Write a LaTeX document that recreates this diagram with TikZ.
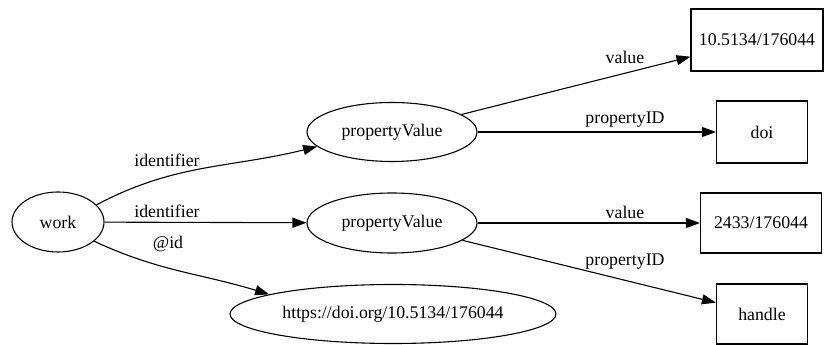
\documentclass[tikz,border=0pt]{standalone}
\usepackage{fontspec}
\setmainfont{Liberation Serif}
\usetikzlibrary{arrows.meta,shapes.geometric}
\begin{document}
\begin{tikzpicture}[x=1pt,y=1pt,
  every node/.style={font=\fontsize{17.8}{20}\selectfont, inner sep=0pt},
  ell/.style={draw, ellipse, line width=1.1pt},
  box/.style={draw, rectangle, line width=1.1pt},
  edge/.style={draw, line width=1.1pt, -{Triangle[length=14pt,width=10pt]}},
  lbl/.style={fill=none}]
\useasboundingbox (0,0) rectangle (828,345);
\node[ell, minimum width=92pt, minimum height=60pt] (work) at (58,123) {work};
\node[ell, minimum width=170pt, minimum height=59pt] (pv1) at (392,213) {propertyValue};
\node[ell, minimum width=170pt, minimum height=60pt] (pv2) at (392,122) {propertyValue};
\node[ell, minimum width=326pt, minimum height=59pt] (url) at (393,31) {https://doi.org/10.5134/176044};
\node[box, minimum width=132pt, minimum height=62pt] (b1) at (757,305) {10.5134/176044};
\node[box, minimum width=91pt, minimum height=62pt] (doi) at (762,213) {doi};
\node[box, minimum width=121pt, minimum height=60pt] (b2) at (761,122) {2433/176044};
\node[box, minimum width=91pt, minimum height=60pt] (handle) at (762,31) {handle};

\draw[edge] (work.24) to[out=28,in=194] (pv1.191);
\draw[edge] (work) -- (pv2);
\draw[edge] (work.-28) to[out=-25,in=163] (url.171);
\draw[edge] (pv1) -- (b1);
\draw[edge] (pv1) -- (doi);
\draw[edge] (pv2) -- (b2);
\draw[edge] (pv2) -- (handle);

\node[lbl] (l1) at (167,185) {identifier};
\node[lbl] (l2) at (167,134) {identifier};
\node[lbl] (l3) at (168,101) {@id};
\node[lbl] (l4) at (625,288) {value};
\node[lbl] (l5) at (625,225) {propertyID};
\node[lbl] (l6) at (625,133) {value};
\node[lbl] (l7) at (625,83) {propertyID};
\end{tikzpicture}
\end{document}
